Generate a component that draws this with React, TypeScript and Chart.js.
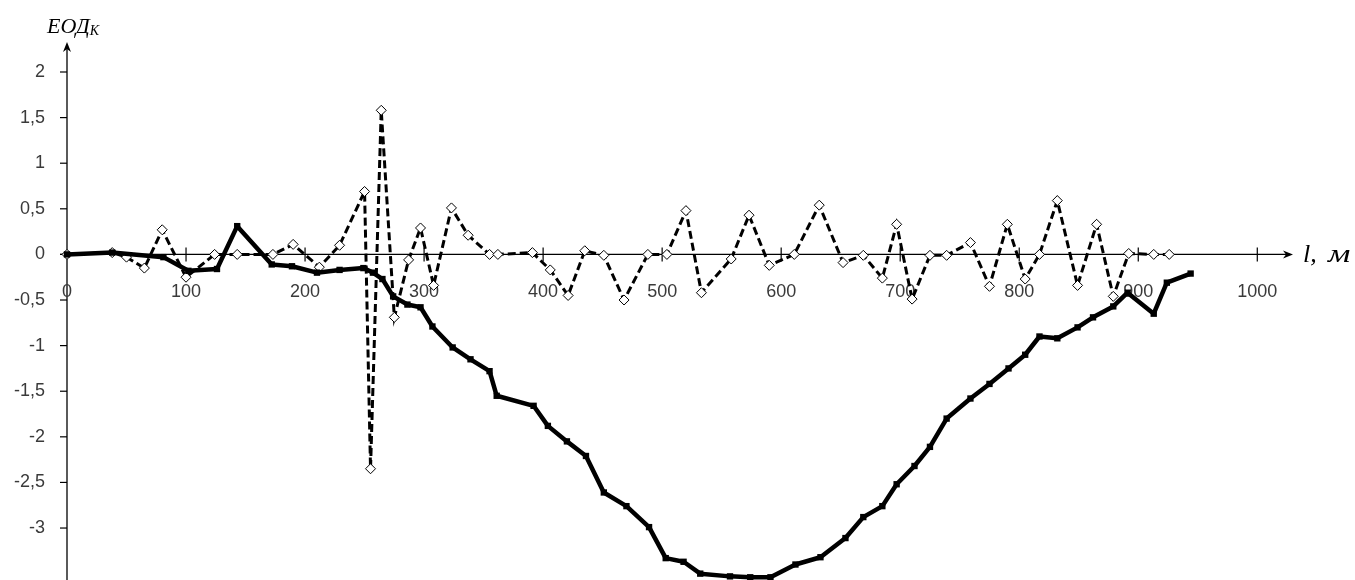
import React, { useEffect, useRef } from 'react';
import { Chart, registerables } from 'chart.js';

Chart.register(...registerables);

// Solid series (thick line, filled squares)
const solidX = [0, 38, 81, 102, 126, 143, 172, 189, 210, 229, 249, 257, 265, 274, 286, 297, 307, 324, 339, 355, 361, 392, 404, 420, 436, 451, 470, 489, 503, 518, 532, 557, 574, 591, 612, 633, 654, 669, 685, 697, 712, 725, 739, 759, 775, 791, 805, 817, 832, 849, 862, 879, 891, 913, 924, 944];
const solidY = [0, 0.02, -0.03, -0.18, -0.16, 0.31, -0.11, -0.13, -0.2, -0.17, -0.15, -0.2, -0.27, -0.46, -0.55, -0.58, -0.79, -1.02, -1.15, -1.28, -1.55, -1.66, -1.88, -2.05, -2.21, -2.61, -2.76, -2.99, -3.33, -3.37, -3.5, -3.53, -3.54, -3.54, -3.4, -3.32, -3.11, -2.88, -2.76, -2.52, -2.32, -2.11, -1.8, -1.58, -1.42, -1.25, -1.1, -0.9, -0.92, -0.8, -0.69, -0.57, -0.42, -0.65, -0.31, -0.21];

// Dashed series (open diamonds)
const dashX = [0, 38, 50, 65, 80, 100, 124, 143, 173, 190, 212, 229, 250, 255, 264, 275, 287, 297, 308, 323, 337, 355, 362, 391, 406, 421, 435, 451, 468, 488, 504, 520, 533, 558, 573, 590, 611, 632, 652, 669, 685, 697, 710, 725, 739, 759, 775, 790, 805, 817, 832, 849, 865, 879, 892, 913, 926];
const dashY = [0, 0.02, -0.03, -0.15, 0.27, -0.25, 0, 0, 0, 0.11, -0.14, 0.1, 0.69, -2.35, 1.58, -0.69, -0.06, 0.29, -0.34, 0.51, 0.21, 0, 0, 0.02, -0.17, -0.45, 0.04, -0.01, -0.5, 0, 0, 0.48, -0.42, -0.05, 0.43, -0.12, 0, 0.54, -0.09, -0.01, -0.26, 0.33, -0.49, -0.01, -0.01, 0.13, -0.35, 0.33, -0.27, 0, 0.59, -0.34, 0.33, -0.46, 0.01, 0, 0];

const xTicks = [0, 100, 200, 300, 400, 500, 600, 700, 800, 900, 1000];
const yTicks = [-3, -2.5, -2, -1.5, -1, -0.5, 0, 0.5, 1, 1.5, 2];

const yTitleMain = 'ЕОД';
const yTitleSub = 'К';
const xTitleVar = 'l,';
const xTitleUnit = 'м';

const LABEL_FAMILY = "'Liberation Sans', Arial, sans-serif";
const LABEL_SIZE = 18;
const LABEL_COLOR = '#3a3a3a';
const SERIF = "'Liberation Serif', 'DejaVu Serif', serif";

const axesPlugin = {
  id: 'axesPlugin',
  beforeDatasetsDraw(chart: any) {
    const { ctx, chartArea, scales } = chart;
    const xs = scales.x;
    const ys = scales.y;
    const x0 = xs.getPixelForValue(0);
    const y0 = ys.getPixelForValue(0);
    ctx.save();
    ctx.strokeStyle = '#000';
    ctx.fillStyle = '#000';
    ctx.lineWidth = 1.3;
    // x axis
    const xEnd = chartArea.right;
    ctx.beginPath();
    ctx.moveTo(x0 - 7, y0);
    ctx.lineTo(xEnd - 3, y0);
    ctx.stroke();
    ctx.beginPath();
    ctx.moveTo(xEnd, y0);
    ctx.lineTo(xEnd - 10, y0 - 4);
    ctx.lineTo(xEnd - 7, y0);
    ctx.lineTo(xEnd - 10, y0 + 4);
    ctx.closePath();
    ctx.fill();
    // y axis
    const yTop = chartArea.top - 3;
    ctx.beginPath();
    ctx.moveTo(x0, chart.height);
    ctx.lineTo(x0, yTop + 3);
    ctx.stroke();
    ctx.beginPath();
    ctx.moveTo(x0, yTop);
    ctx.lineTo(x0 - 4, yTop + 10);
    ctx.lineTo(x0, yTop + 7);
    ctx.lineTo(x0 + 4, yTop + 10);
    ctx.closePath();
    ctx.fill();
    // x tick marks
    ctx.lineWidth = 1.2;
    xTicks.forEach((v) => {
      if (v === 0) return;
      const px = xs.getPixelForValue(v);
      ctx.beginPath();
      ctx.moveTo(px, y0 - 7);
      ctx.lineTo(px, y0 + 7);
      ctx.stroke();
    });
    // y tick marks
    yTicks.forEach((v) => {
      const py = ys.getPixelForValue(v);
      ctx.beginPath();
      ctx.moveTo(x0 - 7, py);
      ctx.lineTo(x0, py);
      ctx.stroke();
    });
    // x tick labels, placed just under the x axis (which crosses at y = 0)
    ctx.fillStyle = LABEL_COLOR;
    ctx.font = `${LABEL_SIZE}px ${LABEL_FAMILY}`;
    ctx.textAlign = 'center';
    ctx.textBaseline = 'middle';
    xTicks.forEach((v) => {
      const px = xs.getPixelForValue(v);
      ctx.fillText(String(v), px, y0 + 38);
    });
    ctx.restore();
  },
  afterDraw(chart: any) {
    const { ctx, chartArea, scales } = chart;
    const y0 = scales.y.getPixelForValue(0);
    ctx.save();
    ctx.fillStyle = '#000';
    ctx.textBaseline = 'alphabetic';
    ctx.textAlign = 'left';
    ctx.font = `italic 22px ${SERIF}`;
    ctx.fillText(yTitleMain, 47, 33);
    const w = ctx.measureText(yTitleMain).width;
    ctx.font = `italic 14px ${SERIF}`;
    ctx.fillText(yTitleSub, 47 + w, 35);
    // x axis title
    const tx = chartArea.right + 10;
    ctx.font = `italic 26px ${SERIF}`;
    ctx.fillText(xTitleVar, tx, y0 + 8);
    ctx.save();
    ctx.translate(tx + 25, y0 + 8);
    ctx.scale(1.35, 1);
    ctx.fillText(xTitleUnit, 0, 0);
    ctx.restore();
    ctx.restore();
  },
};

export default function App() {
  const canvasRef = useRef<HTMLCanvasElement | null>(null);

  useEffect(() => {
    const canvas = canvasRef.current;
    if (!canvas) return;
    const chart = new Chart(canvas, {
      type: 'line',
      data: {
        datasets: [
          {
            label: 'solid',
            data: solidX.map((x, i) => ({ x, y: solidY[i] })),
            borderColor: '#000',
            backgroundColor: '#000',
            borderWidth: 4.5,
            borderJoinStyle: 'round',
            borderCapStyle: 'round',
            pointStyle: 'rect',
            pointRadius: 4.5,
            pointBorderWidth: 0,
            pointBackgroundColor: '#000',
            tension: 0,
            fill: false,
            clip: false,
          },
          {
            label: 'dashed',
            data: dashX.map((x, i) => ({ x, y: dashY[i] })),
            borderColor: '#000',
            backgroundColor: '#fff',
            borderWidth: 3,
            borderDash: [8, 4],
            pointStyle: 'rectRot',
            pointRadius: 5,
            pointBorderWidth: 1,
            pointBorderColor: '#000',
            pointBackgroundColor: '#fff',
            tension: 0,
            fill: false,
            clip: false,
          },
        ],
      },
      options: {
        responsive: true,
        maintainAspectRatio: false,
        animation: false,
        layout: { padding: { top: 45, right: 62, bottom: 0, left: 0 } },
        plugins: {
          legend: { display: false },
          tooltip: { enabled: false },
          title: { display: false },
        },
        scales: {
          x: {
            type: 'linear',
            display: false,
            min: 0,
            max: 1030,
          },
          y: {
            type: 'linear',
            min: -3.504,
            max: 2.296,
            afterFit: (s: any) => {
              s.width = 67;
              s.paddingTop = 0;
              s.paddingBottom = 0;
            },
            grid: { display: false, drawTicks: false },
            border: { display: false },
            afterBuildTicks: (s: any) => {
              s.ticks = yTicks.map((v) => ({ value: v }));
            },
            ticks: {
              autoSkip: false,
              padding: 22,
              color: LABEL_COLOR,
              font: { family: LABEL_FAMILY, size: LABEL_SIZE },
              callback: (v: any) => String(v).replace('.', ','),
            },
          },
        },
      },
      plugins: [axesPlugin],
    });
    return () => chart.destroy();
  }, []);

  return (
    <div style={{ position: 'absolute', left: 0, top: 0, width: 1355, height: 580, background: '#fff' }}>
      <canvas ref={canvasRef} />
    </div>
  );
}
